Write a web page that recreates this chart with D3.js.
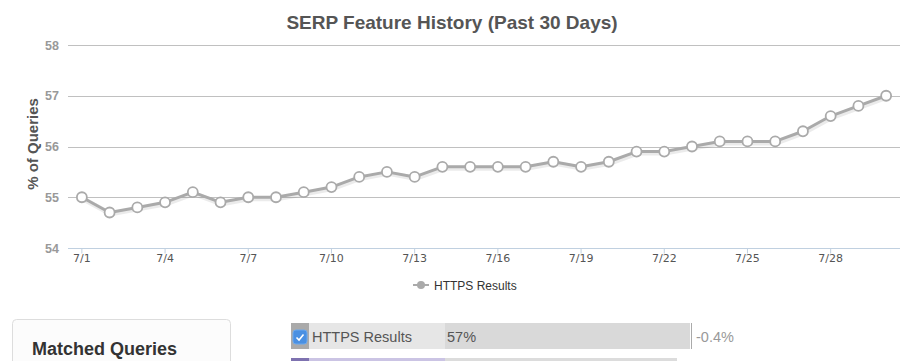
<!DOCTYPE html>
<html>
<head>
<meta charset="utf-8">
<script src="https://cdn.jsdelivr.net/npm/d3@7.9.0/dist/d3.min.js"></script>
<style>
  html, body { margin: 0; padding: 0; background: #fff; }
  svg { display: block; font-family: "Liberation Sans", Arial, sans-serif; }
</style>
</head>
<body>
<svg id="chart" width="917" height="361"></svg>
<script>
const dates = ["7/1","7/2","7/3","7/4","7/5","7/6","7/7","7/8","7/9","7/10",
  "7/11","7/12","7/13","7/14","7/15","7/16","7/17","7/18","7/19","7/20",
  "7/21","7/22","7/23","7/24","7/25","7/26","7/27","7/28","7/29","7/30"];
const httpsValues = [55.0, 54.7, 54.8, 54.9, 55.1, 54.9, 55.0, 55.0, 55.1, 55.2,
  55.4, 55.5, 55.4, 55.6, 55.6, 55.6, 55.6, 55.7, 55.6, 55.7,
  55.9, 55.9, 56.0, 56.1, 56.1, 56.1, 56.3, 56.6, 56.8, 57.0];
const yTicks = [54, 55, 56, 57, 58];
const seriesName = "HTTPS Results";
const summaryShare = "57%";
const summaryChange = "-0.4%";

const svg = d3.select("#chart");

const x = d3.scaleBand().domain(dates).range([68, 900]);
const y = d3.scaleLinear().domain([54, 58]).range([248, 45]);
const cx = d => x(d) + x.bandwidth() / 2;

// title
svg.append("text")
  .attr("x", 452).attr("y", 29)
  .attr("text-anchor", "middle")
  .attr("font-size", 19).attr("font-weight", "bold")
  .attr("fill", "#555")
  .text("SERP Feature History (Past 30 Days)");

// gridlines
svg.append("g")
  .selectAll("line")
  .data(yTicks.filter(t => t > 54))
  .join("line")
  .attr("x1", 68).attr("x2", 900)
  .attr("y1", d => Math.round(y(d)) + 0.5).attr("y2", d => Math.round(y(d)) + 0.5)
  .attr("stroke", "#c0c0c0");

// y tick labels
svg.append("g")
  .selectAll("text")
  .data(yTicks)
  .join("text")
  .attr("x", 59).attr("y", d => y(d) + 4.5)
  .attr("text-anchor", "end")
  .attr("font-size", 12.5).attr("font-weight", "bold")
  .attr("fill", "#999")
  .text(d => d);

// y axis title
svg.append("text")
  .attr("transform", "translate(38,144) rotate(-90)")
  .attr("text-anchor", "middle")
  .attr("font-size", 15).attr("font-weight", "bold")
  .attr("fill", "#555")
  .text("% of Queries");

// x axis
const xAxis = d3.axisBottom(x)
  .tickValues(dates.filter((d, i) => i % 3 === 0))
  .tickSize(5).tickSizeOuter(0).tickPadding(1);
const gx = svg.append("g").attr("transform", "translate(0,248.5)").call(xAxis);
gx.select(".domain").attr("stroke", "#c0d0e0").attr("d", "M68,0H900");
gx.selectAll(".tick line").attr("stroke", "#c0d0e0");
gx.selectAll(".tick text")
  .attr("fill", "#555")
  .attr("font-size", 11)
  .attr("font-family", "'DejaVu Sans', sans-serif");

// line
const line = d3.line().x((d, i) => cx(dates[i])).y(d => y(d));

svg.append("path")
  .datum(httpsValues)
  .attr("d", line)
  .attr("transform", "translate(1,1.5)")
  .attr("fill", "none")
  .attr("stroke", "rgba(0,0,0,0.08)")
  .attr("stroke-width", 5);

svg.append("path")
  .datum(httpsValues)
  .attr("d", line)
  .attr("fill", "none")
  .attr("stroke", "#aaa")
  .attr("stroke-width", 3)
  .attr("stroke-linejoin", "round");

svg.append("g")
  .selectAll("circle")
  .data(httpsValues)
  .join("circle")
  .attr("cx", (d, i) => cx(dates[i]))
  .attr("cy", d => y(d))
  .attr("r", 5)
  .attr("fill", "#fff")
  .attr("stroke", "#aaa")
  .attr("stroke-width", 1.8);

// legend
const lg = svg.append("g").attr("transform", "translate(413,285)");
lg.append("line").attr("x1", 0).attr("x2", 16).attr("y1", 0).attr("y2", 0)
  .attr("stroke", "#aaa").attr("stroke-width", 2);
lg.append("circle").attr("cx", 8).attr("cy", 0).attr("r", 4).attr("fill", "#aaa");
lg.append("text").attr("x", 21).attr("y", 4.5)
  .attr("font-size", 12).attr("fill", "#333")
  .text(seriesName);

// bottom panel
svg.append("rect")
  .attr("x", 12.5).attr("y", 319.5).attr("width", 218).attr("height", 60)
  .attr("rx", 4)
  .attr("fill", "#fcfcfc").attr("stroke", "#ddd");
svg.append("text")
  .attr("x", 32).attr("y", 355)
  .attr("font-size", 18).attr("font-weight", "bold")
  .attr("fill", "#333")
  .text("Matched Queries");

// summary row
svg.append("rect").attr("x", 291).attr("y", 323).attr("width", 18).attr("height", 26).attr("fill", "#aaa");
svg.append("rect").attr("x", 309).attr("y", 323).attr("width", 136).attr("height", 26).attr("fill", "#e6e6e6");
svg.append("rect").attr("x", 445).attr("y", 323).attr("width", 245).attr("height", 26).attr("fill", "#d9d9d9");
svg.append("line").attr("x1", 691.5).attr("x2", 691.5).attr("y1", 323).attr("y2", 349).attr("stroke", "#aaa");
svg.append("rect").attr("x", 293).attr("y", 330).attr("width", 14).attr("height", 14).attr("rx", 3)
  .attr("fill", "#4a90e2").attr("stroke", "#6aa8ee");
svg.append("path").attr("d", "M296.5,337.5 L299,340 L303.5,334.5")
  .attr("fill", "none").attr("stroke", "#fff").attr("stroke-width", 1.6);
svg.append("text").attr("x", 312).attr("y", 342)
  .attr("font-size", 14.5).attr("fill", "#555").text(seriesName);
svg.append("text").attr("x", 447).attr("y", 342)
  .attr("font-size", 14.5).attr("fill", "#555").text(summaryShare);
svg.append("text").attr("x", 696).attr("y", 342)
  .attr("font-size", 14.5).attr("fill", "#999").text(summaryChange);

// next row (cut off)
svg.append("rect").attr("x", 291).attr("y", 358).attr("width", 18).attr("height", 10).attr("fill", "#7e72b0");
svg.append("rect").attr("x", 309).attr("y", 358).attr("width", 136).attr("height", 10).attr("fill", "#cbc4e4");
svg.append("rect").attr("x", 445).attr("y", 358).attr("width", 232).attr("height", 10).attr("fill", "#dcdcdc");
</script>
</body>
</html>
